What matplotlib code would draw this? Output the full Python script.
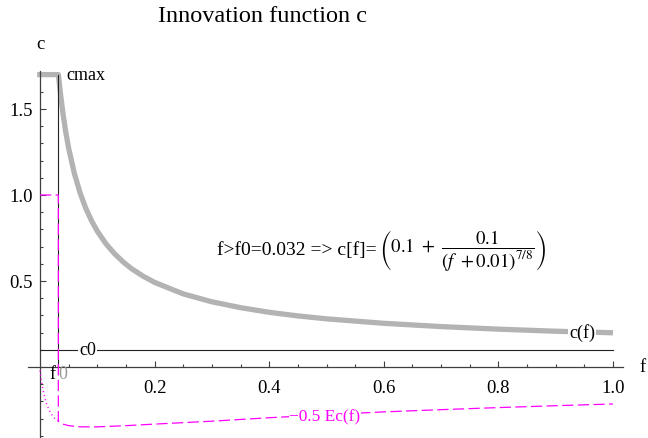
import numpy as np
import matplotlib
matplotlib.use("Agg")
import matplotlib.pyplot as plt

plt.rcParams['font.family'] = ['Liberation Serif', 'DejaVu Serif']
plt.rcParams['mathtext.fontset'] = 'stix'

# values
f0 = 0.032
cmax = 1.7
c0 = 0.1

c_f = [0.032, 0.035, 0.04, 0.045, 0.05, 0.06, 0.07, 0.08, 0.09, 0.10, 0.115, 0.13,
       0.145, 0.16, 0.18, 0.20, 0.25, 0.30, 0.35, 0.40, 0.45, 0.50, 0.60, 0.70,
       0.80, 0.90, 1.00]
c_v = [1.70, 1.609, 1.475, 1.365, 1.272, 1.125, 1.012, 0.922, 0.850, 0.790, 0.717,
       0.659, 0.611, 0.571, 0.528, 0.492, 0.425, 0.379, 0.345, 0.318, 0.297, 0.280,
       0.254, 0.235, 0.220, 0.208, 0.199]

ec_f = [0.032, 0.04, 0.05, 0.07, 0.10, 0.15, 0.20, 0.30, 0.40, 0.50, 0.60, 0.70,
        0.80, 0.90, 1.00]
ec_v = [-0.315, -0.332, -0.341, -0.348, -0.348, -0.341, -0.332, -0.315, -0.295,
        -0.277, -0.261, -0.248, -0.236, -0.225, -0.215]

dot_f = [0.0, 0.002, 0.005, 0.01, 0.015, 0.02, 0.025, 0.032]
dot_v = [-0.02, -0.07, -0.13, -0.20, -0.245, -0.275, -0.297, -0.315]

x_major = [0.2, 0.4, 0.6, 0.8, 1.0]
y_major = [0.5, 1.0, 1.5]

fig = plt.figure(figsize=(6.48, 4.39), dpi=100)
ax = fig.add_axes([0, 0, 1, 1])
ax.set_xlim(-40 / 573, 608 / 573)
ax.set_ylim(-71 / 172, 368 / 172)

axc = '#404040'
for s in ['top', 'right']:
    ax.spines[s].set_visible(False)
ax.spines['left'].set_position(('data', 0))
ax.spines['bottom'].set_position(('data', 0))
ax.spines['left'].set_bounds(-0.42, 1.72)
ax.spines['bottom'].set_bounds(-0.021, 1.017)
for s in ['left', 'bottom']:
    ax.spines[s].set_color(axc)
    ax.spines[s].set_linewidth(0.9)

ax.set_xticks(x_major)
ax.set_xticks(np.arange(0.05, 1.0, 0.05), minor=True)
ax.set_yticks(y_major)
ax.set_yticks(np.arange(-0.4, 1.75, 0.1), minor=True)
ax.tick_params(which='both', direction='in', color=axc, width=0.8)
ax.tick_params(which='major', length=4.5, labelsize=13.5)
ax.tick_params(which='minor', length=2.5)
ax.tick_params(axis='x', pad=9)
ax.tick_params(axis='y', pad=5)
ax.set_xticklabels(['0.2', '0.4', '0.6', '0.8', '1.0'])
ax.set_yticklabels(['0.5', '1.0', '1.5'])

# thick gray c(f)
ax.plot([-0.005, f0] + c_f, [cmax, cmax] + c_v, color='#b3b3b3', lw=3.8,
        solid_capstyle='butt', zorder=2)
# c0 and f0 lines
ax.plot([0, 1.0], [c0, c0], color='#222222', lw=0.8, zorder=3)
ax.plot([f0, f0], [0, cmax], color='#222222', lw=0.8, zorder=3)

# -0.5 Ec(f)
ax.plot([0, f0] + ec_f, [1.0, 1.0] + ec_v, color='#ff00ff', lw=0.9,
        dashes=(9, 3.5), zorder=4)
ax.plot(dot_f, dot_v, color='#ff00ff', lw=1.0, linestyle=(0, (0.8, 2.2)), zorder=4)

bb = dict(facecolor='white', edgecolor='none', pad=0.5)
ax.text(0.046, cmax, 'cmax', fontsize=13, ha='left', va='center')
ax.text(0.083, c0, 'c0', fontsize=13, ha='center', va='center', bbox=bb, zorder=5)
ax.text(0.946, 0.205, 'c(f)', fontsize=13, ha='center', va='center', bbox=bb, zorder=5)
ax.text(0.497, -0.285, '\u22120.5 Ec(f)', fontsize=12.5, color='#ff00ff',
        ha='center', va='center', bbox=bb, zorder=5)
ax.text(0.021, -0.04, 'f', fontsize=13, ha='center', va='center')
ax.text(0.039, -0.04, '0', fontsize=13, color='#999999', ha='center', va='center')

ax.text(0.0, 1.878, 'c', fontsize=13.5, ha='center', va='center')
ax.text(1.052, 0.0, 'f', fontsize=13.5, ha='center', va='center')

ax.text(0.309, 0.686, 'f>f0=0.032 => c[f]=', fontsize=14, ha='left', va='center')
ax.text(0.592, 0.686,
        r'$\left(0.1\ +\ \dfrac{0.1}{(f\ +0.01)^{7/8}}\right)$',
        fontsize=13.5, ha='left', va='center')

fig.text(263 / 648, 1 - 16 / 439, 'Innovation function c', fontsize=17.5,
         ha='center', va='center')

fig.savefig('out.png', dpi=100)
